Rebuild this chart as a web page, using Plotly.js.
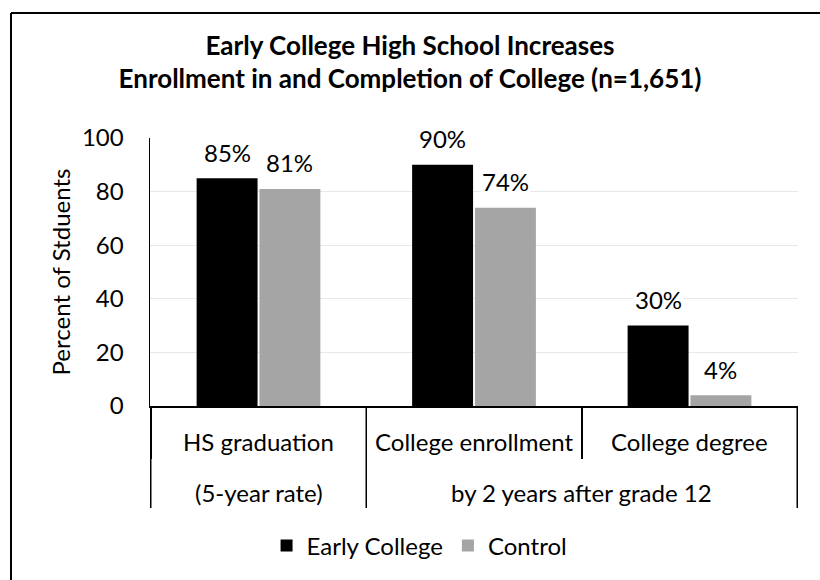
<!DOCTYPE html>
<html>
<head>
<meta charset="utf-8">
<script src="https://cdn.plot.ly/plotly-3.0.1.min.js"></script>
<style>
  html, body { margin: 0; padding: 0; background: #ffffff; }
  #chart { width: 820px; height: 580px; }
</style>
</head>
<body>
<div id="chart"></div>
<script>
// ---- data ----
const categories = ["HS graduation", "College enrollment", "College degree"];
const outerLabels = ["(5-year rate)", "by 2 years after grade 12"];
const outerGroupOf = [0, 1, 1];           // which outer label each category belongs to
const seriesNames = ["Early College", "Control"];
const earlyCollege = [85, 90, 30];
const control = [81, 74, 4];
const yTicks = [0, 20, 40, 60, 80, 100];

// ---- style ----
const FONT = "Lato, 'Open Sans', sans-serif";
const FS = 24;
const colors = ["#000000", "#a5a5a5"];
const bargap = 0.417;
const catPx = 648 / categories.length;
const slot = catPx * (1 - bargap) / 2;

const traces = [earlyCollege, control].map((vals, i) => ({
  type: "bar",
  name: seriesNames[i],
  x: categories,
  y: vals,
  marker: { color: colors[i] },
  hoverinfo: "skip"
}));

const annotations = [];
[earlyCollege, control].forEach((vals, i) => {
  vals.forEach((v, j) => {
    annotations.push({
      xref: "x", yref: "y", x: categories[j], y: v,
      xshift: (i === 0 ? -1 : 1) * slot / 2,
      yshift: 26, yanchor: "middle", xanchor: "center",
      text: v + "%", showarrow: false,
      bgcolor: "#ffffff", borderpad: 1,
      font: { family: FONT, size: FS, color: "#000000" }
    });
  });
});
// first-row category labels
categories.forEach((c, j) => {
  annotations.push({
    xref: "x", yref: "paper", x: j, y: -0.1306, yanchor: "middle",
    text: c, showarrow: false,
    font: { family: FONT, size: FS, color: "#000000" }
  });
});
// second-row group labels
outerLabels.forEach((lab, g) => {
  const idx = outerGroupOf.map((o, j) => o === g ? j : null).filter(v => v !== null);
  const center = (idx[0] + idx[idx.length - 1]) / 2;
  annotations.push({
    xref: "x", yref: "paper", x: center, y: -0.3246, yanchor: "middle",
    text: lab, showarrow: false,
    font: { family: FONT, size: FS, color: "#000000" }
  });
});

// outer group boundaries (long lines through both label rows)
const shapes = [];
const boundaries = [-0.5];
outerGroupOf.forEach((o, j) => {
  if (j === outerGroupOf.length - 1 || outerGroupOf[j + 1] !== o) boundaries.push(j + 0.5);
});
boundaries.forEach(b => {
  shapes.push({ type: "line", xref: "x", yref: "paper", x0: b, x1: b, y0: 0, y1: -0.381,
    line: { color: "#000000", width: 1.5 } });
});
// chart-area border (top and left visible)
shapes.push({ type: "line", xref: "paper", yref: "paper", x0: -0.2145, x1: 1.2, y0: 1.4664, y1: 1.4664,
  line: { color: "#000000", width: 2 } });
shapes.push({ type: "line", xref: "paper", yref: "paper", x0: -0.2145, x1: -0.2145, y0: 1.4664, y1: -0.8,
  line: { color: "#000000", width: 2 } });

const layout = {
  width: 820, height: 580,
  margin: { l: 150, r: 22, t: 138, b: 174 },
  paper_bgcolor: "#ffffff", plot_bgcolor: "#ffffff",
  font: { family: FONT, color: "#000000" },
  title: {
    text: "<b>Early College High School Increases<br>Enrollment in and Completion of College (n=1,651)</b>",
    font: { family: FONT, size: 26, color: "#000000" },
    x: 0.5, xref: "container", xanchor: "center",
    y: 1 - 54.5 / 580, yref: "container", yanchor: "middle"
  },
  barmode: "group",
  bargap: bargap,
  bargroupgap: 0.03,
  showlegend: true,
  legend: {
    orientation: "h", x: 0.416, xanchor: "center", y: -0.522, yanchor: "middle",
    font: { family: FONT, size: FS, color: "#000000" },
    traceorder: "normal"
  },
  xaxis: {
    type: "category",
    showticklabels: false,
    ticks: "outside", tickson: "boundaries", ticklen: 51, tickwidth: 1.5, tickcolor: "#000000",
    showline: true, linecolor: "#000000", linewidth: 1.5,
    showgrid: false, zeroline: false, fixedrange: true
  },
  yaxis: {
    range: [0, 100], tickvals: yTicks,
    showgrid: true, gridcolor: "#e8e8e8", gridwidth: 1,
    showline: true, linecolor: "#000000", linewidth: 1.5,
    zeroline: false, ticks: "", ticklabelstandoff: 20,
    tickfont: { family: FONT, size: FS, color: "#000000" },
    title: { text: "Percent of Stduents", standoff: 4, font: { family: FONT, size: FS, color: "#000000" } },
    fixedrange: true
  },
  annotations: annotations,
  shapes: shapes
};

Plotly.newPlot("chart", traces, layout, { displayModeBar: false, staticPlot: true });
</script>
</body>
</html>
